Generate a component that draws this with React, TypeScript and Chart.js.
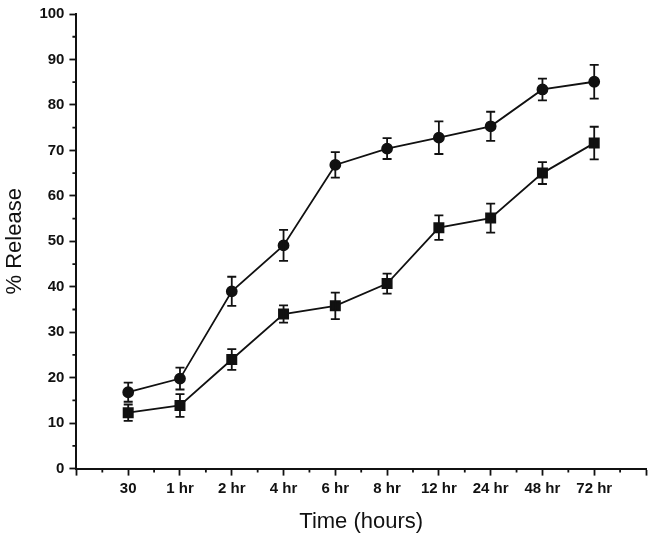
import { useEffect, useRef } from 'react';
import { Chart, registerables } from 'chart.js';

Chart.register(...registerables);

const categories = ['30', '1 hr', '2 hr', '4 hr', '6 hr', '8 hr', '12 hr', '24 hr', '48 hr', '72 hr'];
const circleValues = [16.8, 19.8, 39.0, 49.1, 66.8, 70.4, 72.8, 75.3, 83.4, 85.1];
const circleErrors = [2.1, 2.4, 3.2, 3.4, 2.8, 2.3, 3.6, 3.2, 2.4, 3.7];
const squareValues = [12.3, 13.9, 24.0, 34.0, 35.8, 40.7, 53.0, 55.1, 65.0, 71.6];
const squareErrors = [1.8, 2.5, 2.3, 1.9, 2.9, 2.2, 2.7, 3.2, 2.4, 3.6];

const font = '"Liberation Sans", Arial, sans-serif';

// error bars + short minor ticks
const extras = {
  id: 'extras',
  afterDatasetsDraw(chart: any) {
    const { ctx, scales } = chart;
    const x = scales.x;
    const y = scales.y;
    ctx.save();
    ctx.strokeStyle = '#111';
    ctx.lineWidth = 1.8;
    const sets = [
      [circleValues, circleErrors],
      [squareValues, squareErrors],
    ];
    sets.forEach(([vals, errs]) => {
      vals.forEach((v, i) => {
        const px = x.getPixelForValue(i);
        const top = y.getPixelForValue(v + errs[i]);
        const bot = y.getPixelForValue(v - errs[i]);
        ctx.beginPath();
        ctx.moveTo(px, top);
        ctx.lineTo(px, bot);
        ctx.moveTo(px - 4.5, top);
        ctx.lineTo(px + 4.5, top);
        ctx.moveTo(px - 4.5, bot);
        ctx.lineTo(px + 4.5, bot);
        ctx.stroke();
      });
    });
    ctx.restore();
  },
  afterDraw(chart: any) {
    const { ctx, scales } = chart;
    const x = scales.x;
    const y = scales.y;
    ctx.save();
    ctx.strokeStyle = '#111';
    ctx.lineWidth = 1.8;
    ctx.beginPath();
    x.ticks.forEach((t: any) => {
      if (Number.isInteger(t.value)) return;
      const px = x.getPixelForValue(t.value);
      ctx.moveTo(px, x.top);
      ctx.lineTo(px, x.top + 4);
    });
    y.ticks.forEach((t: any) => {
      if (t.value % 10 === 0) return;
      const py = y.getPixelForValue(t.value);
      ctx.moveTo(y.right, py);
      ctx.lineTo(y.right - 4, py);
    });
    ctx.stroke();
    ctx.restore();
  },
};

const App = () => {
  const chartRef = useRef<HTMLCanvasElement>(null);

  useEffect(() => {
    const data = {
      datasets: [
        {
          label: 'circles',
          data: circleValues.map((v, i) => ({ x: i, y: v })),
          borderColor: '#111',
          backgroundColor: '#111',
          borderWidth: 1.8,
          pointStyle: 'circle',
          pointRadius: 5,
        },
        {
          label: 'squares',
          data: squareValues.map((v, i) => ({ x: i, y: v })),
          borderColor: '#111',
          backgroundColor: '#111',
          borderWidth: 1.8,
          pointStyle: 'rect',
          pointRadius: 6.5,
        },
      ],
    };

    const config: any = {
      type: 'line',
      data,
      plugins: [extras],
      options: {
        animation: false,
        responsive: false,
        layout: { autoPadding: false, padding: { left: 0, right: 0, top: -2, bottom: 0 } },
        plugins: { legend: { display: false }, tooltip: { enabled: false } },
        scales: {
          x: {
            type: 'linear',
            min: -1,
            max: 10,
            border: { color: '#111', width: 2 },
            grid: {
              drawOnChartArea: false,
              tickLength: 7,
              tickWidth: 1.8,
              tickColor: (c: any) => (Number.isInteger(c.tick?.value) ? '#111' : 'rgba(0,0,0,0)'),
            },
            ticks: {
              stepSize: 0.5,
              autoSkip: false,
              maxRotation: 0,
              padding: 4,
              color: '#111',
              font: { family: font, size: 15, weight: 'bold' },
              callback: (v: number) => (Number.isInteger(v) && v >= 0 && v < categories.length ? categories[v] : ''),
            },
            title: {
              display: true,
              text: 'Time (hours)',
              color: '#111',
              font: { family: font, size: 22 },
              padding: { top: 7, bottom: 0 },
            },
          },
          y: {
            min: 0,
            max: 100,
            border: { color: '#111', width: 2 },
            grid: {
              drawOnChartArea: false,
              tickLength: 7,
              tickWidth: 1.8,
              tickColor: (c: any) => (c.tick?.value % 10 === 0 ? '#111' : 'rgba(0,0,0,0)'),
            },
            ticks: {
              stepSize: 5,
              autoSkip: false,
              padding: 5,
              color: '#111',
              font: { family: font, size: 15, weight: 'bold' },
              callback: (v: number) => (v % 10 === 0 ? String(v) : ''),
            },
            title: {
              display: true,
              text: '% Release',
              color: '#111',
              font: { family: font, size: 22 },
              padding: { top: 2, bottom: 6 },
            },
          },
        },
      },
    };

    const myChart = new Chart(chartRef.current as HTMLCanvasElement, config);
    return () => {
      myChart.destroy();
    };
  }, []);

  return (
    <div style={{ position: 'fixed', left: 0, top: 0, width: 650, height: 535, background: '#fff' }}>
      <canvas ref={chartRef} width={650} height={535}></canvas>
    </div>
  );
};

export default App;
